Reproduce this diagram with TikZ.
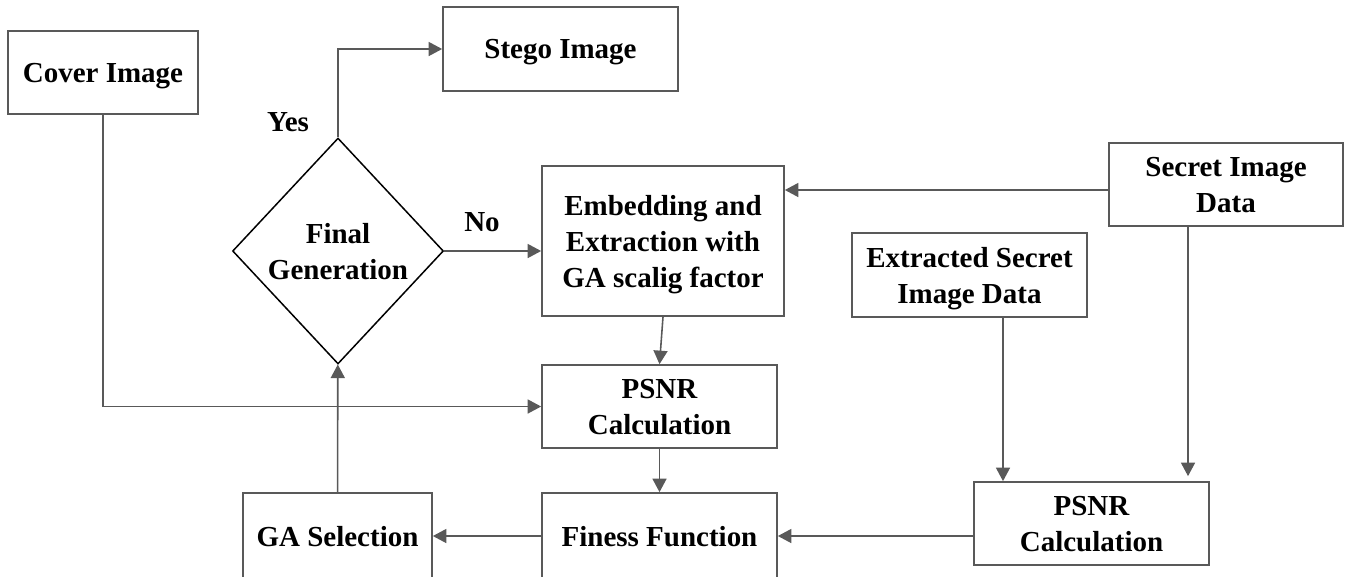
\documentclass[tikz,border=0pt]{standalone}
\usepackage{fontspec}
\setmainfont{Liberation Serif}
\usetikzlibrary{shapes.geometric,arrows.meta}
\definecolor{grigio}{HTML}{595959}
\begin{document}
\begin{tikzpicture}[x=0.02cm,y=-0.02cm,
    blocco/.style={draw=grigio,line width=1pt,align=center,inner sep=0pt,text depth=0pt,
                   font=\bfseries\fontsize{16.5}{20.5}\selectfont},
    rombo/.style={diamond,draw=black,line width=0.85pt,align=center,inner sep=0pt,text depth=-4pt,
                  minimum width=4.22cm,minimum height=4.52cm,
                  font=\bfseries\fontsize{16.5}{20.5}\selectfont},
    freccia/.style={draw=grigio,line width=0.9pt,-{Triangle[length=0.27cm,width=0.28cm]}},
    etic/.style={inner sep=1pt,font=\bfseries\fontsize{16.5}{20.5}\selectfont}]

  \useasboundingbox (0,0) rectangle (1351,576);

  % ---- blocchi -------------------------------------------------------------
  \node[blocco,minimum width=3.8cm,minimum height=1.66cm]  (cover)  at (103,72.5)    {Cover Image};
  \node[blocco,minimum width=4.7cm,minimum height=1.68cm]  (stego)  at (560.5,49)    {Stego Image};
  \node[rombo]                                             (final)  at (338,251)     {Final\\Generation};
  \node[blocco,minimum width=4.84cm,minimum height=3.0cm]  (embed)  at (663,241)     {Embedding and\\Extraction with\\GA scalig factor};
  \node[blocco,minimum width=4.7cm,minimum height=1.66cm]  (psnrA)  at (659.5,406.5) {PSNR\\Calculation};
  \node[blocco,minimum width=4.7cm,minimum height=1.72cm]  (finess) at (659.5,536)   {Finess Function};
  \node[blocco,minimum width=3.78cm,minimum height=1.72cm] (gasel)  at (337.5,536)   {GA Selection};
  \node[blocco,minimum width=4.7cm,minimum height=1.68cm]  (extr)   at (969.5,275)   {Extracted Secret\\Image Data};
  \node[blocco,minimum width=4.68cm,minimum height=1.66cm] (secret) at (1226,184.5)  {Secret Image\\Data};
  \node[blocco,minimum width=4.7cm,minimum height=1.66cm]  (psnrB)  at (1091.5,523.5){PSNR\\Calculation};

  % ---- etichette -----------------------------------------------------------
  \node[etic] (yes) at (288,122) {Yes};
  \node[etic] (no)  at (482,222) {No};

  % ---- frecce --------------------------------------------------------------
  \draw[freccia] (cover.south) |- (psnrA.west);
  \draw[freccia] (final.north) |- (stego.west);
  \draw[freccia] (final.east) -- (final.east -| embed.west);
  \draw[freccia] ([yshift=-0.11cm]secret.west) -- ([yshift=-0.11cm]secret.west -| embed.east);
  \draw[freccia] (embed.south) -- (psnrA.north);
  \draw[freccia] (psnrA) -- (finess);
  \draw[freccia] (finess) -- (gasel);
  \draw[freccia] (gasel) -- (final);
  \draw[freccia] (finess.east -| psnrB.west) -- (finess.east);
  \draw[freccia] ([xshift=0.67cm]extr.south) -- ([xshift=0.67cm]extr.south |- psnrB.north);
  \draw[freccia,shorten >=0.1cm] ([xshift=-0.76cm]secret.south) -- ([xshift=-0.76cm]secret.south |- psnrB.north);
\end{tikzpicture}
\end{document}
